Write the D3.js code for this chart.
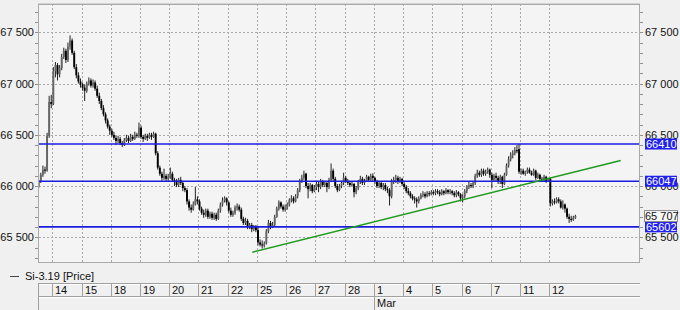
<!DOCTYPE html>
<html>
<head>
<meta charset="utf-8">
<script src="https://cdn.jsdelivr.net/npm/d3@7"></script>
<style>
  body { margin: 0; background: #f0f0f0; }
  svg { display: block; font-family: "Liberation Sans", Arial, sans-serif; font-size: 11px; }
</style>
</head>
<body>
<div id="chart"></div>
<script>
// day labels under the chart (13 Feb is only partly visible and has no label)
const dayLabels = ['13', '14', '15', '18', '19', '20', '21', '22', '25', '26', '27', '28', '1', '4', '5', '6', '7', '11', '12'];
const monthLabels = [{day: 12, text: 'Mar'}];
const barsPerDay = 14;
const firstBar = 7;            // first hourly bar of the 13th that shows
const yTicks = [65500, 66000, 66500, 67000, 67500];
const levels = [66410, 66047, 65602];
const trendLine = [{bar: 109.8, price: 65355}, {bar: 286.2, price: 66250}];
const seriesName = 'Si-3.19 [Price]';

// hourly bars, one row per day
const opens = [
  66000, 66040, 66110, 66160, 66150, 66490, 66820,
  66800, 67120, 67180, 67090, 67150, 67260, 67320, 67230, 67360, 67420, 67300, 67160, 67080, 67020,
  66990, 66960, 66930, 67000, 67030, 66980, 67010, 66950, 66880, 66830, 66760, 66700, 66640, 66580,
  66540, 66500, 66470, 66440, 66460, 66420, 66400, 66450, 66470, 66440, 66480, 66460, 66500, 66490,
  66570, 66480, 66460, 66490, 66470, 66500, 66480, 66510, 66320, 66180, 66120, 66080, 66100, 66070,
  66090, 66120, 66060, 66040, 66010, 66060, 66030, 65980, 65960, 65850, 65790, 65770, 65820, 65870,
  65850, 65780, 65740, 65720, 65760, 65700, 65730, 65690, 65720, 65680, 65760, 65820, 65860, 65880,
  65840, 65760, 65720, 65740, 65790, 65800, 65770, 65680, 65640, 65660, 65600, 65620, 65580, 65600,
  65570, 65450, 65430, 65420, 65440, 65560, 65640, 65600, 65620, 65700, 65780, 65840, 65800, 65770,
  65790, 65820, 65860, 65880, 65850, 65900, 65960, 66050, 66080, 66120, 66000, 65970, 66010, 65950,
  65990, 66020, 65990, 66040, 66010, 66030, 65990, 66060, 66150, 66070, 66000, 65960, 66000, 66030,
  66080, 66050, 66030, 66010, 66020, 65940, 65980, 66040, 66070, 66030, 66050, 66090, 66060, 66100,
  66080, 66040, 66000, 66030, 65990, 66010, 65970, 65960, 65900, 66050, 66060, 66080, 66040, 66070,
  66020, 65990, 65950, 65930, 65900, 65880, 65870, 65850, 65880, 65910, 65920, 65900, 65930, 65920,
  65940, 65930, 65950, 65940, 65920, 65950, 65930, 65960, 65940, 65950, 65930, 65910, 65940, 65920,
  65880, 65900, 65950, 65990, 66010, 66000, 66030, 66100, 66130, 66110, 66150, 66120, 66140, 66160,
  66110, 66060, 66100, 66080, 66040, 66090, 66020, 66110, 66200, 66260, 66300, 66320, 66350, 66360,
  66140, 66150, 66120, 66140, 66160, 66130, 66110, 66150, 66080, 66110, 66070, 66060, 66090, 66050,
  66070, 65830, 65850, 65840, 65870, 65850, 65790, 65820, 65780, 65700, 65680, 65670, 65690
];
const highs = [
  66060, 66130, 66200, 66190, 66520, 66880, 66890,
  67160, 67210, 67200, 67180, 67290, 67350, 67340, 67400, 67470, 67440, 67320, 67190, 67110, 67050,
  67010, 66990, 67020, 67060, 67050, 67040, 67030, 66980, 66910, 66850, 66790, 66720, 66660, 66600,
  66560, 66530, 66490, 66490, 66480, 66440, 66470, 66500, 66490, 66510, 66500, 66530, 66520, 66620,
  66590, 66500, 66510, 66510, 66520, 66520, 66530, 66520, 66340, 66200, 66140, 66170, 66120, 66120,
  66180, 66140, 66080, 66070, 66080, 66090, 66050, 66000, 65980, 65870, 65820, 65850, 65990, 65900,
  65870, 65800, 65770, 65780, 65780, 65750, 65750, 65740, 65740, 65780, 65840, 65890, 65900, 65890,
  65850, 65790, 65760, 65810, 65830, 65820, 65790, 65700, 65690, 65680, 65640, 65640, 65620, 65620,
  65600, 65480, 65470, 65460, 65580, 65670, 65660, 65650, 65720, 65800, 65860, 65850, 65820, 65820,
  65840, 65880, 65910, 65900, 65920, 65980, 66070, 66110, 66150, 66130, 66030, 66030, 66020, 66010,
  66050, 66040, 66070, 66060, 66050, 66050, 66080, 66220, 66170, 66090, 66020, 66020, 66050, 66130,
  66100, 66070, 66050, 66040, 66030, 66000, 66060, 66100, 66090, 66070, 66110, 66100, 66120, 66125,
  66090, 66060, 66050, 66050, 66030, 66030, 65990, 65980, 66070, 66090, 66110, 66100, 66090, 66080,
  66040, 66010, 65980, 65950, 65920, 65900, 65890, 65900, 65930, 65950, 65940, 65950, 65950, 65960,
  65960, 65970, 65970, 65960, 65970, 65960, 65980, 65970, 65970, 65960, 65950, 65960, 65950, 65930,
  65920, 65970, 66010, 66040, 66030, 66050, 66120, 66160, 66150, 66170, 66170, 66160, 66180, 66170,
  66130, 66120, 66130, 66100, 66110, 66100, 66130, 66220, 66290, 66330, 66350, 66380, 66400, 66410,
  66170, 66170, 66150, 66180, 66180, 66150, 66170, 66160, 66130, 66120, 66090, 66110, 66100, 66080,
  66080, 65870, 65880, 65890, 65890, 65870, 65860, 65830, 65790, 65730, 65710, 65710, 65720
];
const lows = [
  65980, 66030, 66090, 66120, 66140, 66470, 66760,
  66790, 67060, 67030, 67060, 67130, 67240, 67200, 67210, 67330, 67280, 67140, 67050, 67000, 66960,
  66930, 66830, 66910, 66980, 66960, 66960, 66930, 66860, 66800, 66740, 66680, 66610, 66560, 66500,
  66480, 66450, 66400, 66420, 66400, 66380, 66390, 66430, 66420, 66430, 66440, 66450, 66470, 66470,
  66460, 66430, 66450, 66440, 66460, 66450, 66470, 66300, 66160, 66100, 66050, 66060, 66040, 66050,
  66070, 66040, 66000, 65990, 65990, 66010, 65950, 65940, 65820, 65760, 65740, 65760, 65810, 65820,
  65760, 65720, 65690, 65700, 65680, 65680, 65670, 65670, 65660, 65670, 65740, 65800, 65840, 65810,
  65740, 65700, 65700, 65720, 65760, 65750, 65660, 65620, 65620, 65580, 65580, 65550, 65560, 65550,
  65420, 65410, 65390, 65400, 65430, 65540, 65580, 65590, 65610, 65690, 65760, 65780, 65750, 65750,
  65770, 65800, 65840, 65830, 65840, 65880, 65940, 66030, 66060, 65980, 65880, 65950, 65930, 65940,
  65960, 65940, 65970, 65990, 65990, 65940, 65970, 66040, 66050, 65980, 65940, 65950, 65980, 66010,
  66030, 66010, 65990, 66000, 65890, 65920, 65960, 66020, 66010, 66010, 66040, 66040, 66050, 66050,
  66020, 65980, 65980, 65970, 65960, 65950, 65930, 65810, 65880, 66020, 66030, 66020, 66030, 66000,
  65970, 65930, 65910, 65880, 65860, 65830, 65790, 65830, 65870, 65890, 65880, 65890, 65900, 65910,
  65910, 65910, 65920, 65900, 65910, 65910, 65920, 65920, 65920, 65910, 65890, 65890, 65900, 65850,
  65840, 65880, 65930, 65970, 65980, 65980, 66010, 66080, 66090, 66090, 66100, 66100, 66120, 66080,
  65980, 66040, 66050, 66020, 66020, 65980, 66010, 66100, 66180, 66240, 66270, 66300, 66320, 66120,
  66110, 66110, 66100, 66120, 66120, 66100, 66100, 66060, 66070, 66050, 66040, 66040, 66030, 66040,
  65800, 65810, 65820, 65830, 65830, 65780, 65770, 65740, 65680, 65640, 65650, 65660, 65680
];
const closes = [
  66040, 66110, 66160, 66150, 66490, 66820, 66800,
  67120, 67180, 67090, 67150, 67260, 67320, 67230, 67360, 67420, 67300, 67160, 67080, 67020, 66990,
  66960, 66930, 67000, 67030, 66980, 67010, 66950, 66880, 66830, 66760, 66700, 66640, 66580, 66540,
  66500, 66470, 66440, 66460, 66420, 66400, 66450, 66470, 66440, 66480, 66460, 66500, 66490, 66570,
  66480, 66460, 66490, 66470, 66500, 66480, 66510, 66320, 66180, 66120, 66080, 66100, 66070, 66090,
  66120, 66060, 66040, 66010, 66060, 66030, 65980, 65960, 65850, 65790, 65770, 65820, 65870, 65850,
  65780, 65740, 65720, 65760, 65700, 65730, 65690, 65720, 65680, 65760, 65820, 65860, 65880, 65840,
  65760, 65720, 65740, 65790, 65800, 65770, 65680, 65640, 65660, 65600, 65620, 65580, 65600, 65570,
  65450, 65430, 65420, 65440, 65560, 65640, 65600, 65620, 65700, 65780, 65840, 65800, 65770, 65790,
  65820, 65860, 65880, 65850, 65900, 65960, 66050, 66080, 66120, 66000, 65970, 66010, 65950, 65990,
  66020, 65990, 66040, 66010, 66030, 65990, 66060, 66150, 66070, 66000, 65960, 66000, 66030, 66080,
  66050, 66030, 66010, 66020, 65940, 65980, 66040, 66070, 66030, 66050, 66090, 66060, 66100, 66080,
  66040, 66000, 66030, 65990, 66010, 65970, 65960, 65900, 66050, 66060, 66080, 66040, 66070, 66020,
  65990, 65950, 65930, 65900, 65880, 65870, 65850, 65880, 65910, 65920, 65900, 65930, 65920, 65940,
  65930, 65950, 65940, 65920, 65950, 65930, 65960, 65940, 65950, 65930, 65910, 65940, 65920, 65880,
  65900, 65950, 65990, 66010, 66000, 66030, 66100, 66130, 66110, 66150, 66120, 66140, 66160, 66110,
  66060, 66100, 66080, 66040, 66090, 66020, 66110, 66200, 66260, 66300, 66320, 66350, 66340, 66140,
  66150, 66120, 66140, 66160, 66130, 66110, 66150, 66080, 66110, 66070, 66060, 66090, 66050, 66070,
  65830, 65850, 65840, 65870, 65850, 65790, 65820, 65780, 65700, 65680, 65670, 65690, 65707
];

const width = 680, height = 310;
const plot = {left: 38, right: 640, top: 4, bottom: 263};

const svg = d3.select('#chart').append('svg')
  .attr('width', width)
  .attr('height', height)
  .attr('viewBox', `0 0 ${width} ${height}`);

//
// Scales
//
const x = d3.scaleLinear()
  .domain([barsPerDay, 18 * barsPerDay])
  .range([52.3, 549.3]);
const y = d3.scaleLinear()
  .domain([65500, 67500])
  .range([237.3, 32.3]);
const yVisible = y.copy().domain([y.invert(plot.bottom), y.invert(plot.top)]);

const fmt = v => d3.format(',')(v).replace(/,/g, ' ');

const bars = closes.map((c, i) => ({
  g: firstBar + i, o: opens[i], h: highs[i], l: lows[i], c: c
}));

// plot background
svg.append('rect')
  .attr('x', plot.left).attr('y', plot.top)
  .attr('width', plot.right - plot.left).attr('height', plot.bottom - plot.top)
  .attr('fill', '#f4f4f4');

svg.append('clipPath').attr('id', 'clip')
  .append('rect')
  .attr('x', plot.left).attr('y', plot.top)
  .attr('width', plot.right - plot.left).attr('height', plot.bottom - plot.top);

//
// Grid
//
const dayStarts = d3.range(1, dayLabels.length).map(d => d * barsPerDay);
const grid = svg.append('g').attr('class', 'grid')
  .attr('stroke', '#a8a8a8')
  .attr('stroke-dasharray', '2,2');
grid.selectAll('.vgrid').data(dayStarts).enter().append('line')
  .attr('x1', d => Math.round(x(d)) + 0.5).attr('x2', d => Math.round(x(d)) + 0.5)
  .attr('y1', plot.top).attr('y2', plot.bottom);
grid.selectAll('.hgrid').data(yTicks).enter().append('line')
  .attr('x1', plot.left - 3).attr('x2', plot.right + 3)
  .attr('y1', d => Math.round(y(d)) + 0.5).attr('y2', d => Math.round(y(d)) + 0.5);

//
// Axes (left / right)
//
const minor = yVisible.ticks(25);
const axes = svg.append('g');
axes.selectAll('.mtl').data(minor).enter().append('line')
  .attr('x1', plot.left - 3).attr('x2', plot.left)
  .attr('y1', d => Math.round(y(d)) + 0.5).attr('y2', d => Math.round(y(d)) + 0.5)
  .attr('stroke', '#909090');
axes.selectAll('.mtr').data(minor).enter().append('line')
  .attr('x1', plot.right).attr('x2', plot.right + 3)
  .attr('y1', d => Math.round(y(d)) + 0.5).attr('y2', d => Math.round(y(d)) + 0.5)
  .attr('stroke', '#909090');
axes.selectAll('.ll').data(yTicks).enter().append('text')
  .attr('x', 34).attr('y', d => y(d) + 4)
  .attr('text-anchor', 'end')
  .attr('fill', '#111')
  .text(fmt);
axes.selectAll('.rl').data(yTicks).enter().append('text')
  .attr('x', 645).attr('y', d => y(d) + 4)
  .attr('fill', '#111')
  .text(fmt);

//
// Candles
//
const candles = svg.append('g').attr('clip-path', 'url(#clip)');
const cg = candles.selectAll('.candle').data(bars).enter().append('g')
  .attr('class', 'candle');
cg.append('line')
  .attr('x1', d => x(d.g + 0.5)).attr('x2', d => x(d.g + 0.5))
  .attr('y1', d => y(d.h)).attr('y2', d => y(d.l))
  .attr('stroke', '#222').attr('stroke-width', 1);
cg.append('rect')
  .attr('x', d => x(d.g + 0.5) - 0.95)
  .attr('width', 1.9)
  .attr('y', d => y(Math.max(d.o, d.c)))
  .attr('height', d => Math.max(1, Math.abs(y(d.o) - y(d.c))))
  .attr('fill', d => d.c >= d.o ? '#666' : '#000');

//
// Levels and trend line
//
candles.selectAll('.level').data(levels).enter().append('line')
  .attr('x1', plot.left).attr('x2', plot.right)
  .attr('y1', d => y(d)).attr('y2', d => y(d))
  .attr('stroke', '#1c1ce0').attr('stroke-width', 1.6);
candles.append('line')
  .attr('x1', x(trendLine[0].bar)).attr('y1', y(trendLine[0].price))
  .attr('x2', x(trendLine[1].bar)).attr('y2', y(trendLine[1].price))
  .attr('stroke', '#1f9a1f').attr('stroke-width', 1.5);

// frame
svg.append('rect')
  .attr('x', plot.left + 0.5).attr('y', plot.top + 0.5)
  .attr('width', plot.right - plot.left - 1).attr('height', plot.bottom - plot.top - 1)
  .attr('fill', 'none').attr('stroke', '#a9a9a9');
svg.append('line')
  .attr('x1', plot.left).attr('x2', plot.right)
  .attr('y1', plot.top - 0.5).attr('y2', plot.top - 0.5)
  .attr('stroke', '#d4d4d4');

// level labels on the right (they sit over the axis labels, as in the source)
const lvl = svg.selectAll('.lvl').data(levels).enter().append('g');
lvl.append('rect')
  .attr('x', 645).attr('y', d => y(d) - 5.5)
  .attr('width', 32).attr('height', 11)
  .attr('fill', '#2020ee');
lvl.append('text')
  .attr('x', 646).attr('y', d => y(d) + 4)
  .attr('fill', '#fff')
  .text(d => d);

const last = closes[closes.length - 1];
svg.append('rect')
  .attr('x', 644.5).attr('y', y(last) - 5.5)
  .attr('width', 33).attr('height', 11)
  .attr('fill', '#f8f8f8').attr('stroke', '#8a8a8a');
svg.append('text')
  .attr('x', 645).attr('y', y(last) + 4)
  .attr('fill', '#111')
  .text(fmt(last));

//
// Legend
//
svg.append('line')
  .attr('x1', 10).attr('x2', 19).attr('y1', 276.5).attr('y2', 276.5)
  .attr('stroke', '#444');
svg.append('text')
  .attr('x', 25).attr('y', 280)
  .attr('fill', '#111')
  .text(seriesName);

//
// Date axis
//
const xa = svg.append('g');
[283.5, 296.5].forEach(yy => {
  xa.append('line').attr('x1', plot.left).attr('x2', plot.right)
    .attr('y1', yy).attr('y2', yy).attr('stroke', '#a0a0a0');
  xa.append('line').attr('x1', plot.left).attr('x2', plot.right)
    .attr('y1', yy + 1).attr('y2', yy + 1).attr('stroke', '#ffffff');
});
xa.append('line').attr('x1', plot.left + 0.5).attr('x2', plot.left + 0.5)
  .attr('y1', 283).attr('y2', height).attr('stroke', '#a0a0a0');
xa.selectAll('.sep').data(dayStarts).enter().append('line')
  .attr('x1', d => Math.round(x(d)) + 0.5).attr('x2', d => Math.round(x(d)) + 0.5)
  .attr('y1', 284).attr('y2', 296)
  .attr('stroke', '#a0a0a0');
xa.selectAll('.dl').data(dayStarts).enter().append('text')
  .attr('x', d => Math.round(x(d)) + 3).attr('y', 294)
  .attr('fill', '#111')
  .text((d, i) => dayLabels[i + 1]);
const months = xa.selectAll('.ml').data(monthLabels).enter().append('g');
months.append('line')
  .attr('x1', d => Math.round(x(d.day * barsPerDay)) + 0.5)
  .attr('x2', d => Math.round(x(d.day * barsPerDay)) + 0.5)
  .attr('y1', 297).attr('y2', height)
  .attr('stroke', '#a0a0a0');
months.append('text')
  .attr('x', d => Math.round(x(d.day * barsPerDay)) + 3).attr('y', 307)
  .attr('fill', '#111')
  .text(d => d.text);
</script>
</body>
</html>
